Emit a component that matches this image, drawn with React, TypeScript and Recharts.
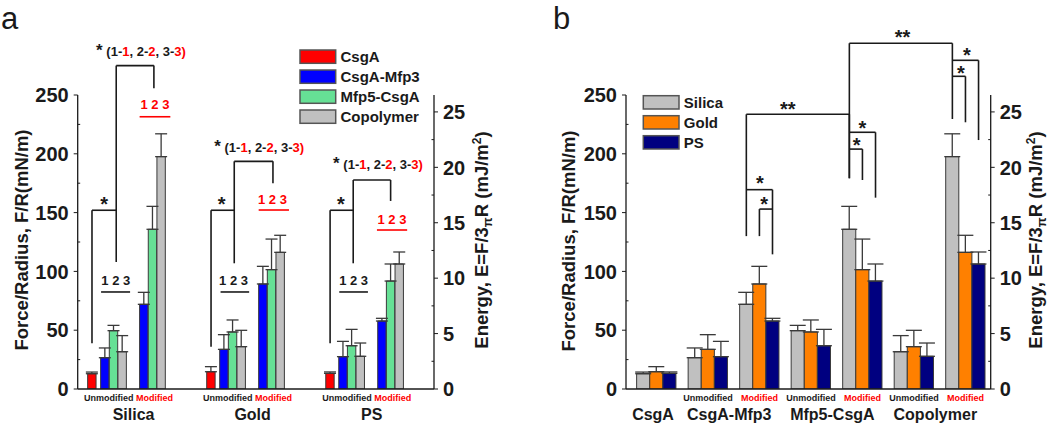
import {
  Bar,
  BarChart,
  Cell,
  ErrorBar,
  ReferenceDot,
  ReferenceLine,
  XAxis,
  YAxis,
} from 'recharts'

// ---- data (Force/Radius, mN/m) ----
const surfaces = ['Silica', 'Gold', 'PS']

const csgA = [13, 14.7, 13.3]
const csgAErr = [1.4, 4.3, 1.2]
const mfp3Unmod = [26.6, 33.7, 27.5]
const mfp3UnmodErr = [8.3, 12.5, 13]
const mfp5Unmod = [49.6, 48.5, 36.8]
const mfp5UnmodErr = [4.5, 10.2, 13.9]
const copolUnmod = [31.7, 36, 27.8]
const copolUnmodErr = [13.7, 13.9, 11.3]
const mfp3Mod = [72, 89.3, 57.8]
const mfp3ModErr = [10.2, 15, 2.3]
const mfp5Mod = [135.8, 101.5, 91.8]
const mfp5ModErr = [19.5, 26, 14.5]
const copolMod = [197.6, 116.2, 106.3]
const copolModErr = [19.4, 14.5, 10.2]

const proteins = ['CsgA', 'CsgA-Mfp3', 'Mfp5-CsgA', 'Copolymer']
const bGroupNames = ['CsgA', 'CsgA-Mfp3', 'Mfp5-CsgA', 'Copolymer']
const bTreatments = ['', 'Unmodified', 'Modified', 'Unmodified', 'Modified', 'Unmodified', 'Modified']

const forceTicks = [0, 25, 50, 75, 100, 125, 150, 175, 200, 225, 250]
const energyTicks = [0, 2.5, 5, 7.5, 10, 12.5, 15, 17.5, 20, 22.5, 25]
const ENERGY_MAX = 250 / (3 * Math.PI)

const RED = '#ff0000'
const BLUE = '#0000ff'
const GREEN = '#66e095'
const GRAY = '#c0c0c0'
const ORANGE = '#ff8000'
const NAVY = '#000080'
const INK = '#1a1a1a'
const FONT = '"Liberation Sans", Arial, Helvetica, sans-serif'

// panel a: bar slots inside each surface group (in bar widths)
const slotOffsets = [0, 1.5, 2.5, 3.5, 6, 7, 8]
const groupStep = 13.75
const aSeries = [
  { vals: csgA, errs: csgAErr, fill: RED },
  { vals: mfp3Unmod, errs: mfp3UnmodErr, fill: BLUE },
  { vals: mfp5Unmod, errs: mfp5UnmodErr, fill: GREEN },
  { vals: copolUnmod, errs: copolUnmodErr, fill: GRAY },
  { vals: mfp3Mod, errs: mfp3ModErr, fill: BLUE },
  { vals: mfp5Mod, errs: mfp5ModErr, fill: GREEN },
  { vals: copolMod, errs: copolModErr, fill: GRAY },
]
const rowsA = surfaces.flatMap((_, g) =>
  aSeries.map((s, k) => ({
    x: g * groupStep + slotOffsets[k],
    v: s.vals[g],
    err: [0, s.errs[g]],
    fill: s.fill,
  })),
)

// panel b: one group per protein/treatment, bars = surfaces
const bCols = [
  [csgA, csgAErr],
  [mfp3Unmod, mfp3UnmodErr],
  [mfp3Mod, mfp3ModErr],
  [mfp5Unmod, mfp5UnmodErr],
  [mfp5Mod, mfp5ModErr],
  [copolUnmod, copolUnmodErr],
  [copolMod, copolModErr],
]
const rowsB = bCols.map(([vals, errs], i) => ({
  x: i,
  silica: vals[0],
  gold: vals[1],
  ps: vals[2],
  silicaErr: [0, errs[0]],
  goldErr: [0, errs[1]],
  psErr: [0, errs[2]],
}))

// annotations, in data units
type Pt = [number, number]
const aBrackets: { big: Pt[]; small: Pt[]; star: Pt; blk: Pt; blkLine: number[]; red: Pt; redLine: number[]; top: Pt }[] = [
  { big: [[2.8, 108], [2.8, 275], [7.15, 275], [7.15, 255.7]], small: [[0, 38.9], [0, 152], [2.8, 152]], star: [1.4, 161], blk: [2.75, 92], blkLine: [1.05, 4.4, 82.5], red: [7.27, 242], redLine: [5.5, 9.05, 231.5], top: [5.66, 286.8] },
  { big: [[2.68, 106.9], [2.68, 193.6], [7.15, 193.6], [7.15, 174.9]], small: [[0, 36], [0, 152], [2.68, 152]], star: [1.23, 161], blk: [2.6, 92], blkLine: [1.1, 4.4, 82.5], red: [7.09, 161.6], redLine: [5.5, 9.0, 152.2], top: [5.56, 205.2] },
  { big: [[2.67, 106.9], [2.67, 177.7], [6.99, 177.7], [6.99, 159.9]], small: [[0, 39], [0, 152], [2.67, 152]], star: [1.25, 161], blk: [2.72, 92], blkLine: [1.06, 4.37, 82.5], red: [7.14, 144.6], redLine: [5.41, 8.9, 135.2], top: [5.53, 191] },
]

const o = 0.254 // one bar width in panel b group units
const bBrackets: Pt[][] = [
  [[2 - o, 130], [2 - o, 233.6], [4 - o, 233.6], [4 - o, 179.2]],
  [[2 - o, 169.5], [2 + o, 169.5], [2 + o, 114.5]],
  [[2, 130], [2, 153], [2 + o, 153]],
  [[4 - o, 179.2], [4 - o, 294], [6 - o, 294], [6 - o, 229.6]],
  [[4 - o, 218.3], [4 + o, 218.3], [4 + o, 162.7]],
  [[4, 177.7], [4, 204], [4 - o, 204]],
  [[6 - o, 279.5], [6 + o, 279.5], [6 + o, 211.7]],
  [[6, 226.8], [6, 265.9], [6 - o, 265.9]],
]
const bStars: { at: Pt; text: string }[] = [
  { at: [2.55, 242], text: '**' },
  { at: [4.78, 303.3], text: '**' },
  { at: [2.01, 179.2], text: '*' },
  { at: [2.09, 160.7], text: '*' },
  { at: [4.0, 226], text: '*' },
  { at: [3.89, 210.9], text: '*' },
  { at: [6.03, 287.7], text: '*' },
  { at: [5.91, 272.7], text: '*' },
]

function segs(points: Pt[], key: string, stroke = INK) {
  const out = []
  for (let i = 1; i < points.length; i++) {
    out.push(
      <ReferenceLine
        key={`${key}-${i}`}
        yAxisId="f"
        segment={[
          { x: points[i - 1][0], y: points[i - 1][1] },
          { x: points[i][0], y: points[i][1] },
        ]}
        stroke={stroke}
        strokeWidth={1.6}
        ifOverflow="visible"
      />,
    )
  }
  return out
}

function textAt(key: string, at: Pt, content: any, size: number, dy: string, fill = INK) {
  return (
    <ReferenceDot
      key={key}
      yAxisId="f"
      x={at[0]}
      y={at[1]}
      r={0}
      ifOverflow="visible"
      shape={(p: any) => (
        <text x={p.cx} y={p.cy} dy={dy} textAnchor="middle" fontFamily={FONT} fontWeight="bold" fontSize={size} fill={fill}>
          {content}
        </text>
      )}
    />
  )
}

function YTick(props: any) {
  const { x, y, payload, side, step } = props
  const v = payload.value
  const major = Math.abs(v / step - Math.round(v / step)) < 1e-6
  const dir = side === 'left' ? -1 : 1
  if (!major) {
    return <line x1={x} x2={x - dir * 2.5} y1={y} y2={y} stroke={INK} strokeWidth={1} />
  }
  return (
    <g>
      <line x1={x} x2={x + dir * 4} y1={y} y2={y} stroke={INK} strokeWidth={1} />
      <text x={x + dir * 9} y={y} dy="0.36em" textAnchor={side === 'left' ? 'end' : 'start'} fontFamily={FONT} fontWeight="bold" fontSize={20} fill={INK}>
        {v}
      </text>
    </g>
  )
}

function ATick(props: any) {
  const { x, y, index } = props
  return (
    <g>
      <text x={x - 5} y={y + 12} textAnchor="middle" fontFamily={FONT} fontWeight="bold" fontSize={9}>
        <tspan fill={INK}>Unmodified </tspan>
        <tspan fill={RED}>Modified</tspan>
      </text>
      <text x={x} y={y + 31} textAnchor="middle" fontFamily={FONT} fontWeight="bold" fontSize={16} fill={INK}>
        {surfaces[index]}
      </text>
    </g>
  )
}

const bNameTicks = [-0.065, 1.415, 3.417, 5.415]
const bTicks = [...bTreatments.map((_, i) => i), ...bNameTicks]

function BTick(props: any) {
  const { x, y, payload } = props
  const v = payload.value
  const ni = bNameTicks.indexOf(v)
  if (ni >= 0) {
    return (
      <text x={x} y={y + 31} textAnchor="middle" fontFamily={FONT} fontWeight="bold" fontSize={16} fill={INK}>
        {bGroupNames[ni]}
      </text>
    )
  }
  const t = bTreatments[v]
  if (!t) return <g />
  return (
    <text x={x} y={y + 12} textAnchor="middle" fontFamily={FONT} fontWeight="bold" fontSize={9} fill={t === 'Modified' ? RED : INK}>
      {t}
    </text>
  )
}

function PanelA() {
  const ann: any[] = []
  aBrackets.forEach((b, g) => {
    const sh = g * groupStep
    const mv = (p: Pt): Pt => [p[0] + sh, p[1]]
    ann.push(...segs(b.big.map(mv), `big${g}`))
    ann.push(...segs(b.small.map(mv), `sm${g}`))
    ann.push(...segs([[b.blkLine[0] + sh, b.blkLine[2]], [b.blkLine[1] + sh, b.blkLine[2]]], `bl${g}`))
    ann.push(...segs([[b.redLine[0] + sh, b.redLine[2]], [b.redLine[1] + sh, b.redLine[2]]], `rl${g}`, RED))
    ann.push(textAt(`st${g}`, mv(b.star), '*', 20, '0.57em'))
    ann.push(textAt(`bt${g}`, mv(b.blk), '1 2 3', 13, '0.36em'))
    ann.push(textAt(`rt${g}`, mv(b.red), '1 2 3', 13, '0.36em', RED))
    ann.push(
      textAt(
        `tp${g}`,
        mv(b.top),
        <>
          <tspan fontSize={17}>*</tspan>
          <tspan> (1-</tspan>
          <tspan fill={RED}>1</tspan>
          <tspan>, 2-</tspan>
          <tspan fill={RED}>2</tspan>
          <tspan>, 3-</tspan>
          <tspan fill={RED}>3)</tspan>
        </>,
        13,
        '0.36em',
      ),
    )
  })

  return (
    <BarChart width={530} height={423} data={rowsA} margin={{ top: 95, right: 36, bottom: 0, left: 0 }}>
      <XAxis
        dataKey="x"
        type="number"
        domain={[-1.65, 39.5]}
        allowDataOverflow
        ticks={surfaces.map((_, g) => g * groupStep + 4.8)}
        interval={0}
        tickLine={false}
        tickSize={0}
        tickMargin={0}
        tick={<ATick />}
        axisLine={{ stroke: INK, strokeWidth: 1.3 }}
        height={34}
      />
      <YAxis
        yAxisId="f"
        type="number"
        domain={[0, 250]}
        allowDataOverflow
        ticks={forceTicks}
        interval={0}
        tickLine={false}
        tickSize={0}
        tickMargin={0}
        tick={(p: any) => <YTick {...p} side="left" step={50} />}
        axisLine={{ stroke: INK, strokeWidth: 1.3 }}
        width={77.7}
      />
      <YAxis
        yAxisId="e"
        type="number"
        orientation="right"
        domain={[0, ENERGY_MAX]}
        allowDataOverflow
        ticks={energyTicks}
        interval={0}
        tickLine={false}
        tickSize={0}
        tickMargin={0}
        tick={(p: any) => <YTick {...p} side="right" step={5} />}
        axisLine={{ stroke: INK, strokeWidth: 1.3 }}
        width={60}
      />
      <Bar yAxisId="f" dataKey="v" barSize={8.4} stroke="#3a3a3a" strokeWidth={1} isAnimationActive={false}>
        {rowsA.map((r, i) => (
          <Cell key={i} fill={r.fill} />
        ))}
        <ErrorBar dataKey="err" width={6} stroke="#3a3a3a" strokeWidth={1.3} direction="y" />
      </Bar>
      {ann}
    </BarChart>
  )
}

function PanelB() {
  const ann: any[] = []
  bBrackets.forEach((pts, i) => ann.push(...segs(pts, `bb${i}`)))
  bStars.forEach((s, i) => ann.push(textAt(`bs${i}`, s.at, s.text, 20, '0.57em')))
  return (
    <BarChart width={510} height={423} data={rowsB} barGap={0} margin={{ top: 95, right: 0, bottom: 0, left: 0 }}>
      <XAxis
        dataKey="x"
        type="number"
        domain={[-0.59, 6.49]}
        allowDataOverflow
        ticks={bTicks}
        interval={0}
        tickLine={false}
        tickSize={0}
        tickMargin={0}
        tick={<BTick />}
        axisLine={{ stroke: INK, strokeWidth: 1.3 }}
        height={34}
      />
      <YAxis
        yAxisId="f"
        type="number"
        domain={[0, 250]}
        allowDataOverflow
        ticks={forceTicks}
        interval={0}
        tickLine={false}
        tickSize={0}
        tickMargin={0}
        tick={(p: any) => <YTick {...p} side="left" step={50} />}
        axisLine={{ stroke: INK, strokeWidth: 1.3 }}
        width={86}
      />
      <YAxis
        yAxisId="e"
        type="number"
        orientation="right"
        domain={[0, ENERGY_MAX]}
        allowDataOverflow
        ticks={energyTicks}
        interval={0}
        tickLine={false}
        tickSize={0}
        tickMargin={0}
        tick={(p: any) => <YTick {...p} side="right" step={5} />}
        axisLine={{ stroke: INK, strokeWidth: 1.3 }}
        width={59.3}
      />
      <Bar yAxisId="f" dataKey="silica" fill={GRAY} barSize={13.1} stroke="#3a3a3a" strokeWidth={1} isAnimationActive={false}>
        <ErrorBar dataKey="silicaErr" width={8} stroke="#3a3a3a" strokeWidth={1.3} direction="y" />
      </Bar>
      <Bar yAxisId="f" dataKey="gold" fill={ORANGE} barSize={13.1} stroke="#3a3a3a" strokeWidth={1} isAnimationActive={false}>
        <ErrorBar dataKey="goldErr" width={8} stroke="#3a3a3a" strokeWidth={1.3} direction="y" />
      </Bar>
      <Bar yAxisId="f" dataKey="ps" fill={NAVY} barSize={13.1} stroke="#3a3a3a" strokeWidth={1} isAnimationActive={false}>
        <ErrorBar dataKey="psErr" width={8} stroke="#3a3a3a" strokeWidth={1.3} direction="y" />
      </Bar>
      {ann}
    </BarChart>
  )
}

function LegendBox({ x, y, names, colors }: { x: number; y: number; names: string[]; colors: string[] }) {
  return (
    <g>
      {names.map((n, i) => (
        <g key={n}>
          <rect x={x} y={y + i * 20} width={35.7} height={13.3} fill={colors[i]} stroke="#555" strokeWidth={1.5} />
          <text x={x + 40.5} y={y + i * 20 + 6.7} dy="0.36em" fontFamily={FONT} fontWeight="bold" fontSize={15} fill={INK}>
            {n}
          </text>
        </g>
      ))}
    </g>
  )
}

function EnergyTitle({ cx, cy }: { cx: number; cy: number }) {
  return (
    <text
      x={cx}
      y={cy}
      dy="0.36em"
      transform={`rotate(-90 ${cx} ${cy})`}
      textAnchor="middle"
      fontFamily={FONT}
      fontWeight="bold"
      fontSize={18.5}
      fill={INK}
    >
      Energy, E=F/3
      <tspan fontSize={13} dy={4}>π</tspan>
      <tspan dy={-4}>R (mJ/m</tspan>
      <tspan fontSize={12} dy={-7}>2</tspan>
      <tspan dy={7}>)</tspan>
    </text>
  )
}

function ForceTitle({ cx, cy }: { cx: number; cy: number }) {
  return (
    <text
      x={cx}
      y={cy}
      dy="0.36em"
      transform={`rotate(-90 ${cx} ${cy})`}
      textAnchor="middle"
      fontFamily={FONT}
      fontWeight="bold"
      fontSize={18.5}
      fill={INK}
    >
      Force/Radius, F/R(mN/m)
    </text>
  )
}

export default function App() {
  return (
    <div style={{ position: 'absolute', left: 0, top: 0, width: 1050, height: 423, background: '#fff', overflow: 'hidden' }}>
      <div style={{ position: 'absolute', left: 0, top: 0 }}>
        <PanelA />
      </div>
      <div style={{ position: 'absolute', left: 540, top: 0 }}>
        <PanelB />
      </div>
      <svg width={1050} height={423} style={{ position: 'absolute', left: 0, top: 0, pointerEvents: 'none' }}>
        <text x={1} y={28.5} fontFamily={FONT} fontSize={31} fill={INK}>a</text>
        <text x={553} y={28.5} fontFamily={FONT} fontSize={31} fill={INK}>b</text>
        <ForceTitle cx={21} cy={240} />
        <EnergyTitle cx={481} cy={240} />
        <ForceTitle cx={568} cy={241} />
        <EnergyTitle cx={1035} cy={240} />
        <LegendBox x={300} y={50} names={proteins} colors={[RED, BLUE, GREEN, GRAY]} />
        <LegendBox x={643.3} y={95.7} names={['Silica', 'Gold', 'PS']} colors={[GRAY, ORANGE, NAVY]} />
      </svg>
    </div>
  )
}
